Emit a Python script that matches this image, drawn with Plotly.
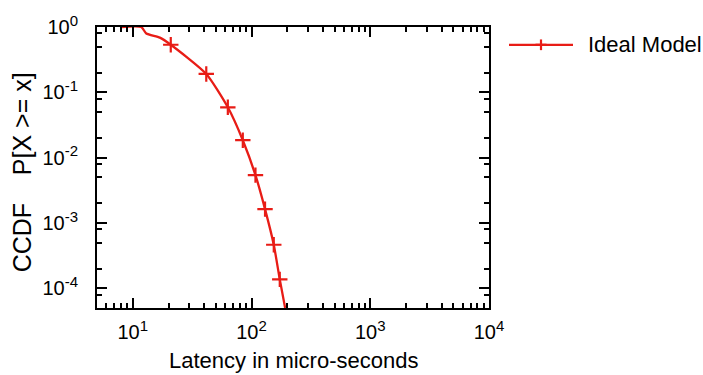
import numpy as np
import plotly.graph_objects as go

# ---- data ----
line_x = [8.0, 11.8, 13.0, 16.9, 20.9, 41.6, 63.2, 84.5, 108, 130, 154, 173, 192]
line_y = [1.0, 1.0, 0.795, 0.687, 0.535, 0.191, 0.059, 0.0185, 0.0054, 0.00163, 4.65e-4, 1.37e-4, 5.0e-5]
marker_x = [20.9, 41.6, 63.2, 84.5, 108, 130, 154, 173]
marker_y = [0.535, 0.191, 0.059, 0.0185, 0.0054, 0.00163, 4.65e-4, 1.37e-4]
series_name = "Ideal Model"

x_tickvals = [10, 100, 1000, 10000]
x_exponents = ["1", "2", "3", "4"]
y_tickvals = [1, 0.1, 0.01, 0.001, 0.0001]
y_exponents = ["0", "-1", "-2", "-3", "-4"]
x_minor = [m * 10 ** k for k in range(0, 4) for m in range(2, 10) if 5 <= m * 10 ** k <= 10000]
y_minor = [m * 10.0 ** k for k in range(-5, 0) for m in (2, 5, 8) if 5e-5 <= m * 10.0 ** k <= 1]

def power_label(e):
    return "10<sup><span style='font-size:15px'>" + e + "</span></sup>"

x_ticktext = [power_label(e) for e in x_exponents]
y_ticktext = [power_label(e) for e in y_exponents]

RED = "rgb(232,28,22)"
FONT = "Liberation Sans, Arial, Helvetica, sans-serif"

fig = go.Figure()
fig.add_trace(go.Scatter(x=line_x, y=line_y, mode="lines", line=dict(color=RED, width=2.3, shape="spline", smoothing=0.6),
                         showlegend=False, hoverinfo="skip"))
fig.add_trace(go.Scatter(x=marker_x, y=marker_y, mode="markers", showlegend=False,
                         marker=dict(symbol="cross-thin", size=11, line=dict(color=RED, width=2.2))))

axis_common = dict(
    type="log", showgrid=False, zeroline=False, showline=True, linecolor="black", linewidth=2,
    mirror="ticks", ticks="inside", ticklen=10, tickwidth=1.5, tickcolor="black",
    tickfont=dict(family=FONT, size=20, color="black"),
)
fig.update_xaxes(**axis_common, range=[np.log10(5), 4], tickmode="array", tickvals=x_tickvals, ticktext=x_ticktext,
                 minor=dict(tickmode="array", tickvals=x_minor, ticks="inside", ticklen=5, tickwidth=1.5, tickcolor="black"),
                 ticklabelstandoff=5)
fig.update_yaxes(**axis_common, range=[np.log10(5e-5), 0], tickmode="array", tickvals=y_tickvals, ticktext=y_ticktext,
                 minor=dict(tickmode="array", tickvals=y_minor, ticks="inside", ticklen=5, tickwidth=1.5, tickcolor="black"),
                 ticklabelstandoff=13)

L, R, T, B = 97, 214, 19, 67
W, H = 703, 375
pw, ph = W - L - R, H - T - B

def px(x):
    return (x - L) / pw

def py(y):
    return (H - B - y) / ph

annotations = [
    dict(text="Latency in micro-seconds", xref="paper", yref="paper", x=px(293), y=py(362),
         xanchor="center", yanchor="middle", showarrow=False, font=dict(family=FONT, size=22, color="black")),
    dict(text="CCDF\u00a0\u00a0\u00a0\u00a0P[X >= x]", xref="paper", yref="paper", x=px(22), y=py(168.5),
         xanchor="center", yanchor="middle", textangle=-90, showarrow=False,
         font=dict(family=FONT, size=25, color="black")),
    dict(text=series_name, xref="paper", yref="paper", x=px(586), y=py(37.5),
         xanchor="left", yanchor="middle", showarrow=False, font=dict(family=FONT, size=22, color="black")),
]
shapes = [
    dict(type="line", xref="paper", yref="paper", x0=px(509), x1=px(573), y0=py(37.3), y1=py(37.3),
         line=dict(color=RED, width=2.3)),
    dict(type="line", xref="paper", yref="paper", x0=px(535.5), x1=px(546.5), y0=py(37.3), y1=py(37.3),
         line=dict(color=RED, width=2.2)),
    dict(type="line", xref="paper", yref="paper", x0=px(541), x1=px(541), y0=py(31.8), y1=py(42.8),
         line=dict(color=RED, width=2.2)),
]

fig.update_layout(
    width=W, height=H, margin=dict(l=L, r=R, t=T, b=B, pad=0),
    paper_bgcolor="white", plot_bgcolor="white",
    annotations=annotations, shapes=shapes, showlegend=False,
    font=dict(family=FONT, color="black"),
)
fig.write_html("out.html")
